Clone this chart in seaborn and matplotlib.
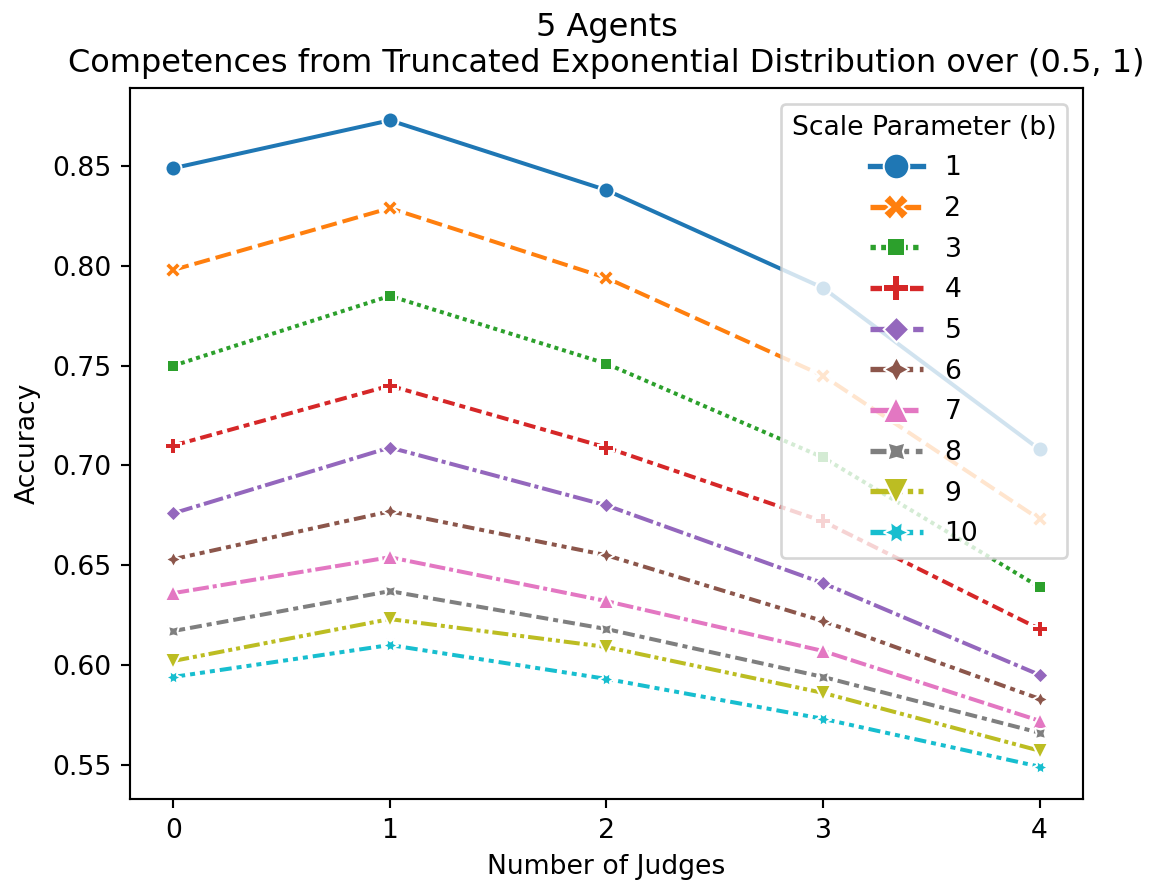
import numpy as np
import pandas as pd
import matplotlib
import matplotlib.pyplot as plt
import seaborn as sns

matplotlib.use('Agg')

judges = [0, 1, 2, 3, 4]
scale_params = [str(b) for b in range(1, 11)]

acc_b1 = [0.849, 0.873, 0.838, 0.789, 0.708]
acc_b2 = [0.798, 0.829, 0.794, 0.745, 0.673]
acc_b3 = [0.750, 0.785, 0.751, 0.704, 0.639]
acc_b4 = [0.710, 0.740, 0.709, 0.672, 0.618]
acc_b5 = [0.676, 0.709, 0.680, 0.641, 0.595]
acc_b6 = [0.653, 0.677, 0.655, 0.622, 0.583]
acc_b7 = [0.636, 0.654, 0.632, 0.607, 0.572]
acc_b8 = [0.617, 0.637, 0.618, 0.594, 0.566]
acc_b9 = [0.602, 0.623, 0.609, 0.586, 0.557]
acc_b10 = [0.594, 0.610, 0.593, 0.573, 0.549]

all_acc = [acc_b1, acc_b2, acc_b3, acc_b4, acc_b5,
           acc_b6, acc_b7, acc_b8, acc_b9, acc_b10]

rows = []
for b, accs in zip(scale_params, all_acc):
    for j, a in zip(judges, accs):
        rows.append({'Number of Judges': j, 'Accuracy': a, 'Scale Parameter (b)': b})
df = pd.DataFrame(rows)

dpi = 192
fig = plt.figure(figsize=(1151 / dpi, 888 / dpi), dpi=dpi)
ax = fig.add_subplot(111)
fig.subplots_adjust(left=0.1129, right=0.9409, top=0.9009, bottom=0.1002)

sns.lineplot(data=df, x='Number of Judges', y='Accuracy',
             hue='Scale Parameter (b)', style='Scale Parameter (b)',
             markers=True, dashes=True, ax=ax)

ax.set_xticks(judges)
ax.set_title("5 Agents\nCompetences from Truncated Exponential Distribution over (0.5, 1)")
leg = ax.legend(title='Scale Parameter (b)', loc='upper right',
                markerscale=1.6, labelspacing=0.55, borderaxespad=0.6)
for h in leg.legend_handles:
    h.set_linewidth(2.0)

fig.savefig('out.png', dpi=dpi)
plt.close(fig)
